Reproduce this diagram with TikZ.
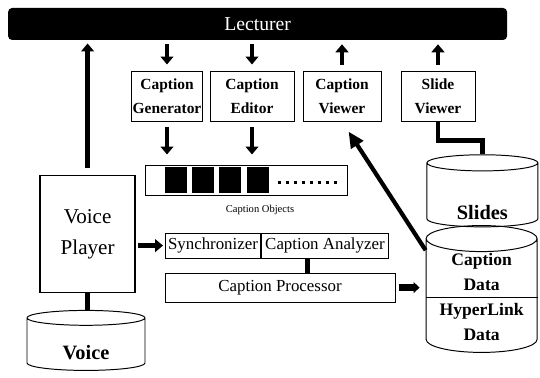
\documentclass[tikz,border=0pt]{standalone}
\usepackage{fontspec}
\setmainfont{LiberationSerif}[Extension=.ttf, UprightFont=*-Regular, BoldFont=*-Bold]
\usetikzlibrary{arrows.meta,positioning,calc,shapes.geometric}

\begin{document}
\begin{tikzpicture}[
  box/.style={draw, line width=0.7pt, align=center, inner sep=1pt,
              minimum height=1.25cm, font=\fontsize{11}{17}\selectfont\bfseries},
  pbox/.style={draw, line width=0.7pt, align=center, inner sep=1pt,
               minimum height=0.63cm, font=\fontsize{12}{14}\selectfont},
  dbase/.style={cylinder, shape border rotate=90, draw, line width=0.7pt,
                aspect=0.3, align=center, inner sep=1pt},
  blk/.style={-{Triangle[length=0.2cm,width=0.32cm]}, line width=3.4pt},
  conn/.style={line width=3.4pt},
  fat/.style={-{Triangle[length=0.15cm,width=0.27cm]}, line width=4.5pt}
]
  \useasboundingbox (0,0) rectangle (13.5,-9.45);

  \node[fill=black, rounded corners=0.1cm, minimum width=12.475cm, minimum height=0.8cm,
        text=white, font=\fontsize{14}{16}\selectfont] (lect) at (6.44,-0.6) {Lecturer};

  \node[box, minimum width=1.75cm] (cgen)  at (4.175,-2.4) {Caption\\Generator};
  \node[box, minimum width=2.1cm]  (cedit) at (6.3,-2.4)   {Caption\\Editor};
  \node[box, minimum width=1.95cm] (cview) at (8.55,-2.4)  {Caption\\Viewer};
  \node[box, minimum width=1.85cm] (sview) at (10.95,-2.4) {Slide\\Viewer};

  % caption object strip
  \node[draw, line width=0.7pt, minimum width=5.05cm, minimum height=0.75cm] (objs) at (6.15,-4.5) {};
  \foreach \i in {0,...,3}
    \node[fill=black, minimum width=0.55cm, minimum height=0.65cm, inner sep=0pt] (sq\i) at (4.4+0.68*\i,-4.5) {};
  \foreach \i in {0,...,7}
    \fill (6.95+0.2*\i,-4.59) rectangle ++(0.075,0.075);
  \node[font=\fontsize{7.5}{9}\selectfont] (objlab) at (6.5,-5.25) {Caption Objects};

  \node[draw, line width=1pt, minimum width=2.375cm, minimum height=2.925cm, align=center,
        font=\fontsize{15}{22}\selectfont] (vp) at (2.19,-5.85) {Voice\\Player};

  \node[pbox, minimum width=2.375cm, anchor=west] (sync) at (4.125,-6.14) {Synchronizer};
  \node[pbox, minimum width=3.175cm, right=0pt of sync] (cana) {Caption Analyzer};
  \node[pbox, minimum width=5.75cm, minimum height=0.725cm] (proc) at (7.0,-7.19) {Caption Processor};

  \node[dbase, minimum width=2.775cm, minimum height=1.7cm, text height=33pt, text depth=0pt,
        font=\fontsize{14.5}{16}\selectfont\bfseries] (slides) at (12.06,-4.9) {Slides};
  \node[dbase, minimum width=2.775cm, minimum height=2.75cm,
        font=\fontsize{12.5}{17.8}\selectfont\bfseries] (cdata) at (12.04,-7.43)
        {Caption\\Data\\HyperLink\\Data};
  \node[dbase, minimum width=2.95cm, minimum height=1.5cm, text height=21pt, text depth=0pt,
        font=\fontsize{14.5}{16}\selectfont\bfseries] (voice) at (2.15,-8.63) {Voice};
  \draw[line width=0.7pt] (cdata.west) -- (cdata.east);

  % lecturer and the four tools
  \draw[blk, shorten <=0.1cm, shorten >=0.15cm] (cgen.north |- lect.south) -- (cgen.north);
  \draw[blk, shorten <=0.1cm, shorten >=0.15cm] (cedit.north |- lect.south) -- (cedit.north);
  \draw[blk, shorten <=0.15cm, shorten >=0.1cm] (cview.north) -- (cview.north |- lect.south);
  \draw[blk, shorten <=0.15cm, shorten >=0.1cm] (sview.north) -- (sview.north |- lect.south);

  \draw[blk, shorten <=0.15cm, shorten >=0.25cm] (cgen.south) -- (cgen.south |- objs.north);
  \draw[blk, shorten <=0.15cm, shorten >=0.25cm] (cedit.south) -- (cedit.south |- objs.north);

  % voice side
  \draw[blk, shorten <=0.18cm, shorten >=0.08cm] (vp.north) -- (vp.north |- lect.south);
  \draw[blk, shorten <=0.05cm, shorten >=0.05cm] (vp.east |- sync.west) -- (sync.west);
  \draw[conn] (vp.south) -- (vp.south |- voice.north);

  \draw[conn] ([xshift=-0.44cm]cana.south) -- ([xshift=-0.44cm]cana.south |- proc.north);
  \draw[fat, shorten <=0.08cm, shorten >=0.15cm] (proc.east) -- (proc.east -| cdata.west);
  \draw[conn] (sview.south) -- ++(0,-0.47) -| (slides.north);
  \draw[line width=3pt, -{Triangle[length=0.4cm,width=0.35cm]}, shorten >=0.3cm] (cdata.140) -- (cview.south);
\end{tikzpicture}
\end{document}
